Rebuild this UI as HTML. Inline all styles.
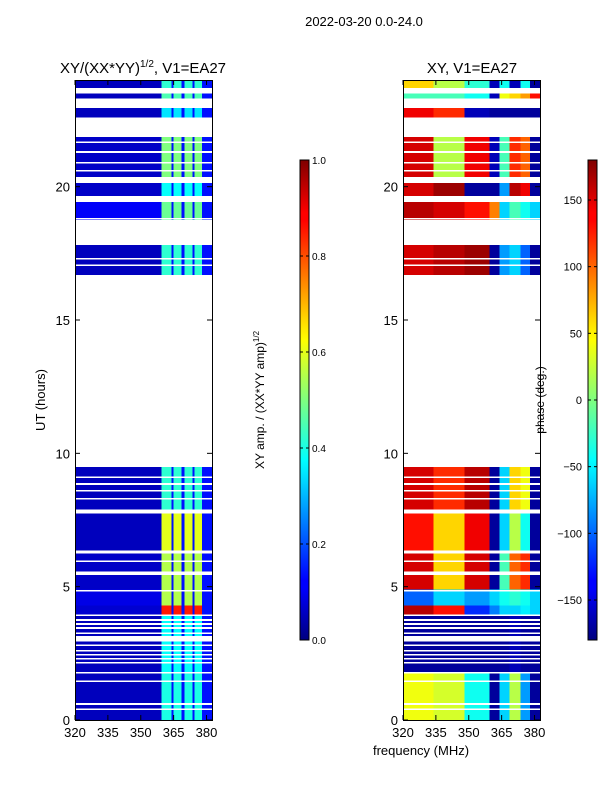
<!DOCTYPE html>
<html><head><meta charset="utf-8">
<style>
body{margin:0;background:#fff;font-family:"Liberation Sans",sans-serif;}
svg text{font-family:"Liberation Sans",sans-serif;fill:#000;}
</style></head>
<body>
<svg id="fig" width="600" height="800" viewBox="0 0 600 800" xmlns="http://www.w3.org/2000/svg">
<defs>
<linearGradient id="jet" x1="0" y1="1" x2="0" y2="0">
<stop offset="0" stop-color="#00007f"/><stop offset="0.11" stop-color="#0000ff"/><stop offset="0.125" stop-color="#0000ff"/>
<stop offset="0.34" stop-color="#00e0ff"/><stop offset="0.375" stop-color="#00ffff"/>
<stop offset="0.5" stop-color="#7fff7f"/><stop offset="0.625" stop-color="#ffff00"/>
<stop offset="0.66" stop-color="#ffe000"/><stop offset="0.875" stop-color="#ff0000"/><stop offset="0.89" stop-color="#ff0000"/><stop offset="1" stop-color="#7f0000"/>
</linearGradient>
</defs>
<text x="364" y="26" font-size="13" text-anchor="middle">2022-03-20 0.0-24.0</text>
<text x="143" y="73" font-size="15" text-anchor="middle">XY/(XX*YY)<tspan font-size="10" dy="-6">1/2</tspan><tspan dy="6">, V1=EA27</tspan></text>
<text x="472" y="73" font-size="15" text-anchor="middle">XY, V1=EA27</text>
<g id="left"></g>
<g id="right"></g>
<g id="axes"></g>
<text transform="translate(45,400) rotate(-90)" font-size="13" text-anchor="middle">UT (hours)</text>
<text x="421" y="755" font-size="13" text-anchor="middle">frequency (MHz)</text>
<rect x="300" y="160" width="9" height="480" fill="url(#jet)" stroke="#000" stroke-width="1"/>
<rect x="588" y="160" width="9" height="480" fill="url(#jet)" stroke="#000" stroke-width="1"/>
<text transform="translate(264,400) rotate(-90)" font-size="12" text-anchor="middle">XY amp. / (XX*YY amp)<tspan font-size="8" dy="-5">1/2</tspan></text>
<text transform="translate(544,400) rotate(-90)" font-size="12" text-anchor="middle">phase (deg.)</text>
<g id="cbticks"></g>
</svg>
<script>
const freqEdges=[320,334,348,359.5,364,365,368.5,370,373.5,374.5,378,382.5];
const segStart=[23.7,23.3,22.6,20.36,19.65,18.75,16.69,7.9,6.3,4.9,4.3,3.95,1.8,0];
const segEnd=[24,23.5,22.95,21.86,20.14,19.42,17.81,9.49,7.75,6.25,4.9,4.3,3.9,1.75];
const ampBand=[0.42,0.45,0.35,0.5,0.38,0.48,0.42,0.42,0.6,0.55,0.55,0.85,0.38,0.4];
const ampBase=[0.06,0.06,0.06,0.07,0.07,0.12,0.06,0.06,0.06,0.07,0.1,0.08,0.06,0.06];
const phaseRows=[
[60,20,-30,-160,-40,-40,-160,-160,-40,-40,-170],
[-20,-20,-40,-160,40,40,60,60,80,80,130],
[140,120,-160,-170,-170,-170,-170,-170,-170,-170,-170],
[150,20,140,-160,-20,-20,120,120,100,100,-170],
[150,170,-170,-170,-80,-80,160,160,140,140,-170],
[160,150,130,90,-60,-60,-20,-20,-40,-40,-60],
[150,160,170,-170,-80,-80,-60,-60,-100,-100,-170],
[150,120,160,-170,-60,-60,60,60,40,40,-170],
[130,60,140,-170,-60,-60,20,20,-40,-40,-170],
[150,60,150,-170,-20,-20,100,100,120,120,-170],
[-100,-60,-80,-60,-40,-40,-30,-30,-40,-40,-60],
[160,130,-120,-90,-60,-60,-60,-60,-50,-50,-60],
[-170,-170,-170,-170,-170,-170,-160,-160,-170,-170,-170],
[40,30,-40,-170,-60,-60,20,20,-80,-80,-170]];
const gapCenter=[21.67,21.3,20.9,20.6,18.8,17.3,17.05,9.1,8.85,8.6,8.3,6.3,5.95,5.5,4.85,3.75,3.6,3.45,3.25,3.05,2.8,2.6,2.45,2.3,2.15,1.45,0.6,0.4];
const gapWidth=[0.06,0.06,0.06,0.06,0.06,0.06,0.06,0.06,0.06,0.06,0.06,0.1,0.06,0.12,0.06,0.06,0.06,0.06,0.06,0.2,0.06,0.06,0.06,0.06,0.06,0.06,0.06,0.06];
const xTicks=[320,335,350,365,380];
const yTicks=[0,5,10,15,20];
const ampTicks=[0,0.2,0.4,0.6,0.8,1.0];
const phaseTicks=[-150,-100,-50,0,50,100,150];

const NS="http://www.w3.org/2000/svg";
const PT=80,PB=720,FMIN=320,FMAX=382.5;
const yS=h=>PB-(h/24)*(PB-PT);
function xS(f,x0){return x0+(f-FMIN)/(FMAX-FMIN)*137;}
function jet(v){v=Math.max(0,Math.min(1,v));
 const c=x=>Math.round(255*Math.max(0,Math.min(1,x)));
 const r=c(1.5-Math.abs(4*v-3)),g=c(1.5-Math.abs(4*v-2)),b=c(1.5-Math.abs(4*v-1));
 return `rgb(${r},${g},${b})`;}
function rect(p,x,y,w,h,fill,name){const r=document.createElementNS(NS,'rect');
 r.setAttribute('x',x);r.setAttribute('y',y);r.setAttribute('width',w);r.setAttribute('height',h);
 r.setAttribute('fill',fill);r.setAttribute('shape-rendering','crispEdges');
 
 
 p.appendChild(r);return r;}
const L=document.getElementById('left'),R=document.getElementById('right');
const bandIdx=[3,5,7,9];
for(let s=0;s<segStart.length;s++){
 const y0=yS(segEnd[s]),y1=yS(segStart[s]);
 for(let k=0;k<freqEdges.length-1;k++){
  const isBand=bandIdx.includes(k);
  const a=isBand?ampBand[s]:(k>=4?0.14:ampBase[s]);
  const xa=xS(freqEdges[k],75),xb=xS(freqEdges[k+1],75);
  rect(L,xa,y0,xb-xa,y1-y0,jet(a),'amp-cell');
  const xc=xS(freqEdges[k],403),xd=xS(freqEdges[k+1],403);
  rect(R,xc,y0,xd-xc,y1-y0,jet((phaseRows[s][k]+180)/360),'phase-cell');
 }
}
for(let i=0;i<gapCenter.length;i++){
 const y0=yS(gapCenter[i]+gapWidth[i]/2),y1=yS(gapCenter[i]-gapWidth[i]/2);
 rect(L,75,y0,137,y1-y0,'#fff','gap-line');
 rect(R,403,y0,137,y1-y0,'#fff','gap-line');
}
const A=document.getElementById('axes');
function line(p,x1,y1,x2,y2,name){const l=document.createElementNS(NS,'line');
 l.setAttribute('x1',x1);l.setAttribute('y1',y1);l.setAttribute('x2',x2);l.setAttribute('y2',y2);
 l.setAttribute('stroke','#000');l.setAttribute('stroke-width','1');
 
 
 p.appendChild(l);}
function text(p,x,y,s,anchor,name,size){const t=document.createElementNS(NS,'text');
 t.setAttribute('x',x);t.setAttribute('y',y);t.setAttribute('text-anchor',anchor);t.setAttribute('font-size',size||13);
 t.textContent=s;
 
 
 p.appendChild(t);}
[75,403].forEach(x0=>{
 const fr=document.createElementNS(NS,'rect');
 fr.setAttribute('x',x0+0.5);fr.setAttribute('y',PT+0.5);fr.setAttribute('width',137);fr.setAttribute('height',PB-PT);
 fr.setAttribute('fill','none');fr.setAttribute('stroke','#000');
 
 
 A.appendChild(fr);
 xTicks.forEach(f=>{const x=xS(f,x0);line(A,x,PB,x,PB-5,'x-tick');line(A,x,PT,x,PT+5,'x-tick');
  text(A,x,PB+17,String(f),'middle','x-tick-label');});
 yTicks.forEach(h=>{const y=yS(h);line(A,x0,y,x0+5,y,'y-tick');line(A,x0+137,y,x0+132,y,'y-tick');
  text(A,x0-5,y+5,String(h),'end','y-tick-label');});
});
const C=document.getElementById('cbticks');
ampTicks.forEach(v=>{const y=640-v*480;line(C,300,y,303,y,'cb-tick');line(C,309,y,306,y,'cb-tick');
 text(C,312,y+4,v.toFixed(1),'start','amp-cb-label',10);});
phaseTicks.forEach(v=>{const y=400-v*480/360;line(C,588,y,591,y,'cb-tick');line(C,597,y,594,y,'cb-tick');
 text(C,582,y+4,String(v).replace('-','\u2212'),'end','phase-cb-label',11);});
</script>
</body></html>
